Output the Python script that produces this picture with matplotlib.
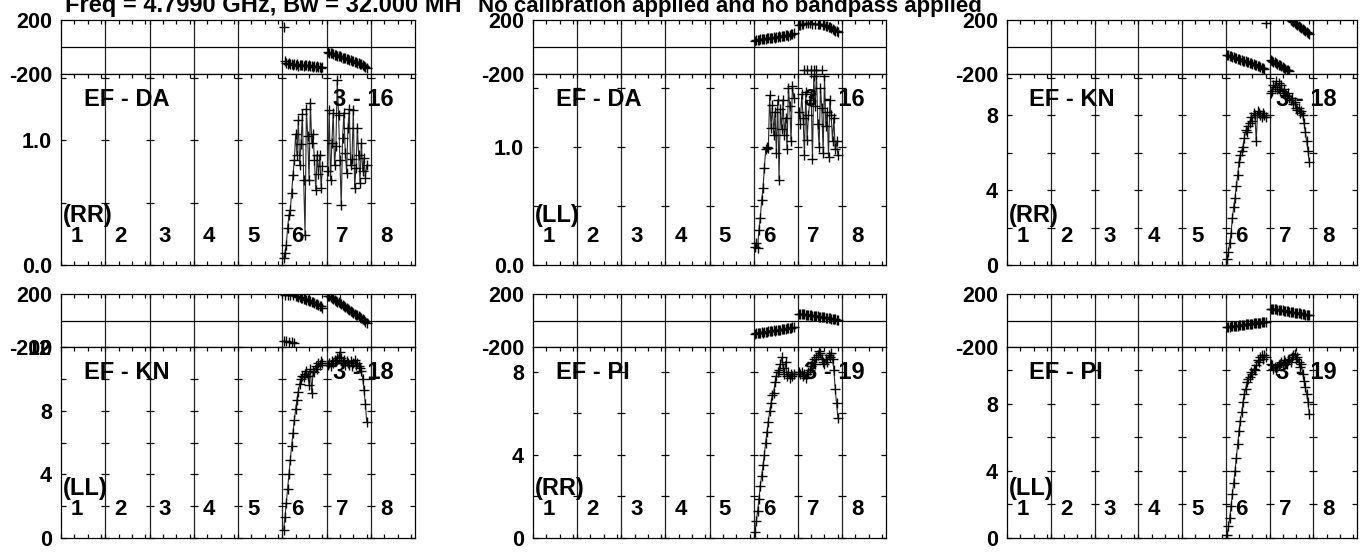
import matplotlib
matplotlib.use('Agg')
import matplotlib.pyplot as plt
import matplotlib.transforms as mtransforms
import numpy as np

plt.rcParams['font.family'] = ['Liberation Sans', 'DejaVu Sans']
plt.rcParams['font.weight'] = 'bold'

W, H, DPI = 1366, 552, 100

# ---------------- data ----------------
TITLE_LEFT = "Freq = 4.7990 GHz, Bw = 32.000 MH"
TITLE_RIGHT = "No calibration applied and no bandpass applied"

IF_LABELS = ['1', '2', '3', '4', '5', '6', '7', '8']
IF_SPAN = 33                 # channel units per IF on the x axis
IF_TICKS = [0, 10, 20, 30]   # tick offsets inside each IF
CHANNELS = list(range(1, 31))
DATA_IFS = [5, 6]            # zero-based IF index of IF 6 and IF 7

BASELINES = ['EF - DA', 'EF - DA', 'EF - KN', 'EF - KN', 'EF - PI', 'EF - PI']
SCANS = ['3 - 16', '3 - 16', '3 - 18', '3 - 18', '3 - 19', '3 - 19']
POLS = ['(RR)', '(LL)', '(RR)', '(LL)', '(RR)', '(LL)']

AMP_TOP = [1.53, 1.62, 10.2, 12.0, 9.2, 11.4]
AMP_TICKS = [[0.0, 0.5, 1.0, 1.5], [0.0, 0.5, 1.0, 1.5], [0, 2, 4, 6, 8, 10],
             [0, 2, 4, 6, 8, 10, 12], [0, 2, 4, 6, 8], [0, 2, 4, 6, 8, 10]]
AMP_LABELS = [['0.0', '', '1.0', ''], ['0.0', '', '1.0', ''], ['0', '', '4', '', '8', ''],
              ['0', '', '4', '', '8', '', '12'], ['0', '', '4', '', '8'], ['0', '', '4', '', '8', '']]
PHASE_TICKS = [-200, 200]
PHASE_LABELS = ['-200', '200']

# EF - DA  RR
amp_da_rr_if6 = [0.06, 0.10, 0.16, 0.30, 0.40, 0.44, 0.58, 0.72, 0.84, 1.05, 0.88, 1.16, 0.80, 0.97, 1.21,
                 0.68, 0.24, 1.25, 1.03, 0.68, 1.30, 0.98, 1.05, 0.84, 0.60, 0.88, 0.73, 0.88, 0.62, 0.79]
amp_da_rr_if7 = [0.75, 1.24, 0.68, 0.98, 1.22, 0.80, 0.95, 1.48, 1.20, 0.84, 0.48, 1.02, 1.22, 0.90, 0.74,
                 1.10, 1.25, 0.80, 0.85, 1.24, 0.62, 0.78, 1.10, 0.88, 0.66, 0.98, 0.75, 0.86, 0.70, 0.80]
ph_da_rr_if6 = [150, -100, -118, -125, -122, -128, -124, -133, -128, -134, -126, -138, -131, -136, -133,
                -141, -132, -137, -141, -136, -144, -139, -146, -141, -149, -144, -151, -147, -154, -150]
ph_da_rr_if7 = [-35, -42, -48, -46, -53, -58, -57, -64, -67, -70, -74, -78, -80, -85, -88,
                -92, -95, -98, -102, -105, -110, -112, -118, -120, -125, -128, -135, -140, -148, -155]

# EF - DA  LL
amp_da_ll_if6 = [0.15, 0.19, 0.14, 0.30, 0.40, 0.55, 0.65, 0.82, 0.98, 1.00, 0.99, 1.44, 1.16, 1.36, 1.10,
                 1.30, 0.95, 1.40, 0.72, 1.32, 1.15, 1.40, 1.10, 1.25, 0.98, 1.50, 1.35, 1.05, 1.52, 1.42]
amp_da_ll_if7 = [1.30, 1.20, 1.45, 1.25, 0.93, 1.47, 1.06, 1.27, 1.40, 1.45, 0.90, 1.60, 1.35, 1.62, 1.20,
                 1.00, 1.50, 1.33, 0.95, 1.60, 1.18, 1.30, 0.92, 1.40, 1.27, 1.05, 1.25, 0.98, 1.05, 0.93]
ph_da_ll_if6 = [48, 52, 55, 50, 58, 56, 60, 62, 58, 65, 63, 68, 66, 70, 72,
                68, 75, 73, 78, 76, 80, 82, 80, 86, 88, 85, 92, 95, 98, 102]
ph_da_ll_if7 = [160, 165, 168, 172, -172, 175, -170, 178, 176, -172, 174, -170, 172, -174, 170,
                168, 172, -172, 165, 162, 158, 155, 150, 145, 140, 135, 128, 122, 116, 110]

# EF - KN  RR
amp_kn_rr_if6 = [0.3, 0.7, 1.2, 1.7, 2.5, 3.1, 3.6, 4.2, 4.8, 5.5, 5.9, 6.1, 6.3, 6.8, 7.2,
                 7.1, 7.4, 7.6, 7.9, 7.7, 8.1, 8.0, 6.6, 8.2, 8.1, 8.0, 7.9, 8.1, 8.0, 7.9]
amp_kn_rr_if7 = [9.2, 9.3, 9.6, 9.5, 9.8, 9.4, 9.7, 9.3, 9.6, 9.2, 9.4, 9.1, 9.0, 9.2, 8.9,
                 8.8, 8.9, 8.6, 8.7, 8.4, 8.3, 8.4, 8.1, 8.2, 8.0, 7.6, 7.1, 6.6, 6.1, 5.5]
ph_kn_rr_if6 = [-58, -62, -66, -68, -72, -76, -80, -82, -86, -90, -93, -96, -100, -104, -107,
                -110, -114, -118, -121, -124, -128, -132, -136, -140, -144, -148, -152, -158, -165, 177]
ph_kn_rr_if7 = [-96, -102, -108, -113, -119, -125, -131, -137, -143, -149, -155, -161, -167, -173, -180,
                198, 191, 184, 176, 169, 161, 154, 147, 139, 132, 125, 117, 110, 102, 95]

# EF - KN  LL
amp_kn_ll_if6 = [0.5, 1.3, 2.2, 3.1, 4.0, 4.9, 5.8, 6.6, 7.4, 8.1, 8.7, 9.2, 9.7, 10.0, 10.2,
                 10.1, 10.3, 10.5, 10.2, 9.6, 10.6, 9.1, 10.5, 10.4, 10.8, 10.6, 11.0, 10.9, 11.1, 11.0]
amp_kn_ll_if7 = [10.9, 11.0, 10.8, 11.1, 11.0, 11.2, 11.1, 11.3, 11.4, 11.7, 11.3, 11.0, 11.2, 10.9, 11.1,
                 11.0, 10.9, 11.1, 10.8, 11.0, 11.2, 10.9, 11.0, 10.8, 10.7, 10.5, 10.0, 9.3, 8.4, 7.3]
ph_kn_ll_if6 = [-155, 196, -158, 194, -162, 192, -165, 190, -170, 186, 183, 180, 176, 172, 168,
                165, 160, 156, 152, 148, 144, 140, 136, 132, 128, 124, 118, 112, 106, 98]
ph_kn_ll_if7 = [188, 182, 176, 170, 164, 157, 150, 143, 136, 129, 122, 115, 108, 101, 94,
                87, 80, 73, 66, 59, 52, 45, 38, 31, 24, 17, 10, 3, -8, -20]

# EF - PI  RR
amp_pi_rr_if6 = [0.3, 0.8, 1.3, 1.9, 2.5, 3.0, 3.5, 4.0, 4.6, 5.1, 5.6, 6.1, 6.5, 6.9, 7.0,
                 7.5, 7.8, 8.0, 8.1, 8.4, 8.7, 8.2, 7.9, 8.5, 7.8, 8.0, 7.7, 7.9, 7.8, 7.9]
amp_pi_rr_if7 = [8.0, 7.9, 8.0, 7.8, 7.9, 7.7, 7.9, 8.0, 8.1, 8.3, 8.5, 8.6, 8.4, 8.7, 8.8,
                 9.0, 8.9, 8.6, 8.5, 8.4, 8.6, 8.5, 8.8, 8.7, 8.9, 8.6, 8.1, 7.2, 6.5, 5.8]
ph_pi_rr_if6 = [-100, -98, -95, -96, -92, -90, -91, -87, -85, -86, -82, -80, -81, -77, -75,
                -76, -72, -70, -71, -68, -66, -64, -65, -61, -60, -58, -57, -54, -52, -50]
ph_pi_rr_if7 = [52, 50, 49, 47, 46, 44, 43, 42, 40, 39, 37, 36, 35, 33, 32,
                30, 29, 27, 26, 24, 22, 21, 19, 17, 15, 13, 11, 8, 5, 2]

# EF - PI  LL
amp_pi_ll_if6 = [0.2, 0.7, 1.2, 1.9, 2.6, 3.3, 4.0, 4.8, 5.6, 6.4, 7.0, 7.5, 8.1, 8.6, 8.9,
                 9.3, 9.5, 9.6, 9.9, 9.8, 10.1, 10.0, 10.3, 10.6, 10.5, 10.8, 10.9, 10.7, 10.9, 10.8]
amp_pi_ll_if7 = [10.4, 10.3, 10.1, 10.2, 10.0, 10.2, 10.3, 10.4, 10.5, 10.3, 10.6, 10.5, 10.4, 10.6, 10.7,
                 10.5, 10.8, 10.9, 11.0, 10.7, 10.8, 10.5, 10.2, 10.4, 9.8, 9.4, 9.0, 8.6, 8.1, 7.4]
ph_pi_ll_if6 = [-50, -48, -47, -45, -44, -42, -41, -39, -38, -36, -35, -34, -32, -31, -30,
                -28, -27, -26, -24, -23, -22, -21, -19, -18, -17, -16, -15, -14, -13, -12]
ph_pi_ll_if7 = [90, 88, 87, 85, 84, 82, 80, 79, 77, 76, 74, 72, 71, 69, 67,
                66, 64, 62, 60, 59, 57, 55, 53, 51, 49, 47, 45, 43, 40, 38]

AMPS = [(amp_da_rr_if6, amp_da_rr_if7), (amp_da_ll_if6, amp_da_ll_if7), (amp_kn_rr_if6, amp_kn_rr_if7),
        (amp_kn_ll_if6, amp_kn_ll_if7), (amp_pi_rr_if6, amp_pi_rr_if7), (amp_pi_ll_if6, amp_pi_ll_if7)]
PHASES = [(ph_da_rr_if6, ph_da_rr_if7), (ph_da_ll_if6, ph_da_ll_if7), (ph_kn_rr_if6, ph_kn_rr_if7),
          (ph_kn_ll_if6, ph_kn_ll_if7), (ph_pi_rr_if6, ph_pi_rr_if7), (ph_pi_ll_if6, ph_pi_ll_if7)]

# ---------------- layout (pixels) ----------------
COLS = [(61, 415), (533, 886), (1007, 1357)]
ROWS = [(20, 74, 265), (294, 347, 538)]

fig = plt.figure(figsize=(W / DPI, H / DPI), dpi=DPI)
fig.patch.set_facecolor('white')


def px_axes(x0, y0, x1, y1):
    return fig.add_axes([x0 / W, 1 - y1 / H, (x1 - x0) / W, (y1 - y0) / H])


n_if = len(IF_LABELS)
xmax = n_if * IF_SPAN
xt = [k * IF_SPAN + t for k in range(n_if) for t in IF_TICKS]
if_lines = [k * IF_SPAN for k in range(1, n_if)]
LW = 0.9
TICK_FS = 15.5

for p in range(6):
    r, c = divmod(p, 3)
    x0, x1 = COLS[c]
    yt, ym, yb = ROWS[r]
    axp = px_axes(x0, yt, x1, ym)
    axa = px_axes(x0, ym, x1, yb)

    for ax in (axp, axa):
        ax.set_xlim(0, xmax)
        for s in ax.spines.values():
            s.set_linewidth(LW)
            s.set_color('black')
        ax.set_xticks(xt)
        ax.tick_params(axis='x', direction='in', length=3, width=LW, labelbottom=False,
                       bottom=False, top=True)
        for xl in if_lines:
            ax.axvline(xl, color='#222222', lw=LW, zorder=1)

    axa.tick_params(axis='x', bottom=True)

    # phase panel
    axp.set_ylim(-200, 200)
    axp.axhline(0, color='black', lw=LW, zorder=1)
    axp.set_yticks(PHASE_TICKS)
    axp.set_yticklabels(PHASE_LABELS, fontsize=TICK_FS, fontweight='bold')
    axp.tick_params(axis='y', length=0, pad=6.5)

    # amplitude panel
    axa.set_ylim(0, AMP_TOP[p])
    axa.set_yticks(AMP_TICKS[p])
    axa.set_yticklabels(AMP_LABELS[p], fontsize=TICK_FS, fontweight='bold')
    axa.tick_params(axis='y', direction='in', length=3.5, width=LW, left=True, right=True, pad=6.5)
    for xl in if_lines:
        axa.plot([xl] * len(AMP_TICKS[p]), AMP_TICKS[p], ls='none', marker='_', ms=6,
                 mew=LW, color='black', zorder=2, clip_on=False)

    # data
    for i, ifi in enumerate(DATA_IFS):
        x = ifi * IF_SPAN + np.array(CHANNELS)
        axa.plot(x, AMPS[p][i], '-', color='#2a2a2a', lw=0.8, marker='+', ms=7.5,
                 mew=1.0, mec='black', zorder=3)
        axp.plot(x, PHASES[p][i], ls='none', marker='+', ms=6.5, mew=1.0, color='black', zorder=3)

    # labels
    axa.text(0.064, 0.864, BASELINES[p], transform=axa.transAxes, fontsize=17,
             fontweight='bold', ha='left', va='center')
    axa.text(0.768, 0.864, SCANS[p], transform=axa.transAxes, fontsize=17,
             fontweight='bold', ha='left', va='center')
    axa.text(0.006, 0.26, POLS[p], transform=axa.transAxes, fontsize=17,
             fontweight='bold', ha='left', va='center')
    trans = mtransforms.blended_transform_factory(axa.transData, axa.transAxes)
    for k, lab in enumerate(IF_LABELS):
        axa.text(k * IF_SPAN + 11.6, 0.148, lab, transform=trans, fontsize=16,
                 fontweight='bold', ha='center', va='center')

fig.text(65 / W, 1 - 12 / H, TITLE_LEFT, fontsize=17, fontweight='bold', ha='left', va='baseline')
fig.text(478 / W, 1 - 12 / H, TITLE_RIGHT, fontsize=16, fontweight='bold', ha='left', va='baseline')

fig.savefig('out.png', dpi=DPI)
